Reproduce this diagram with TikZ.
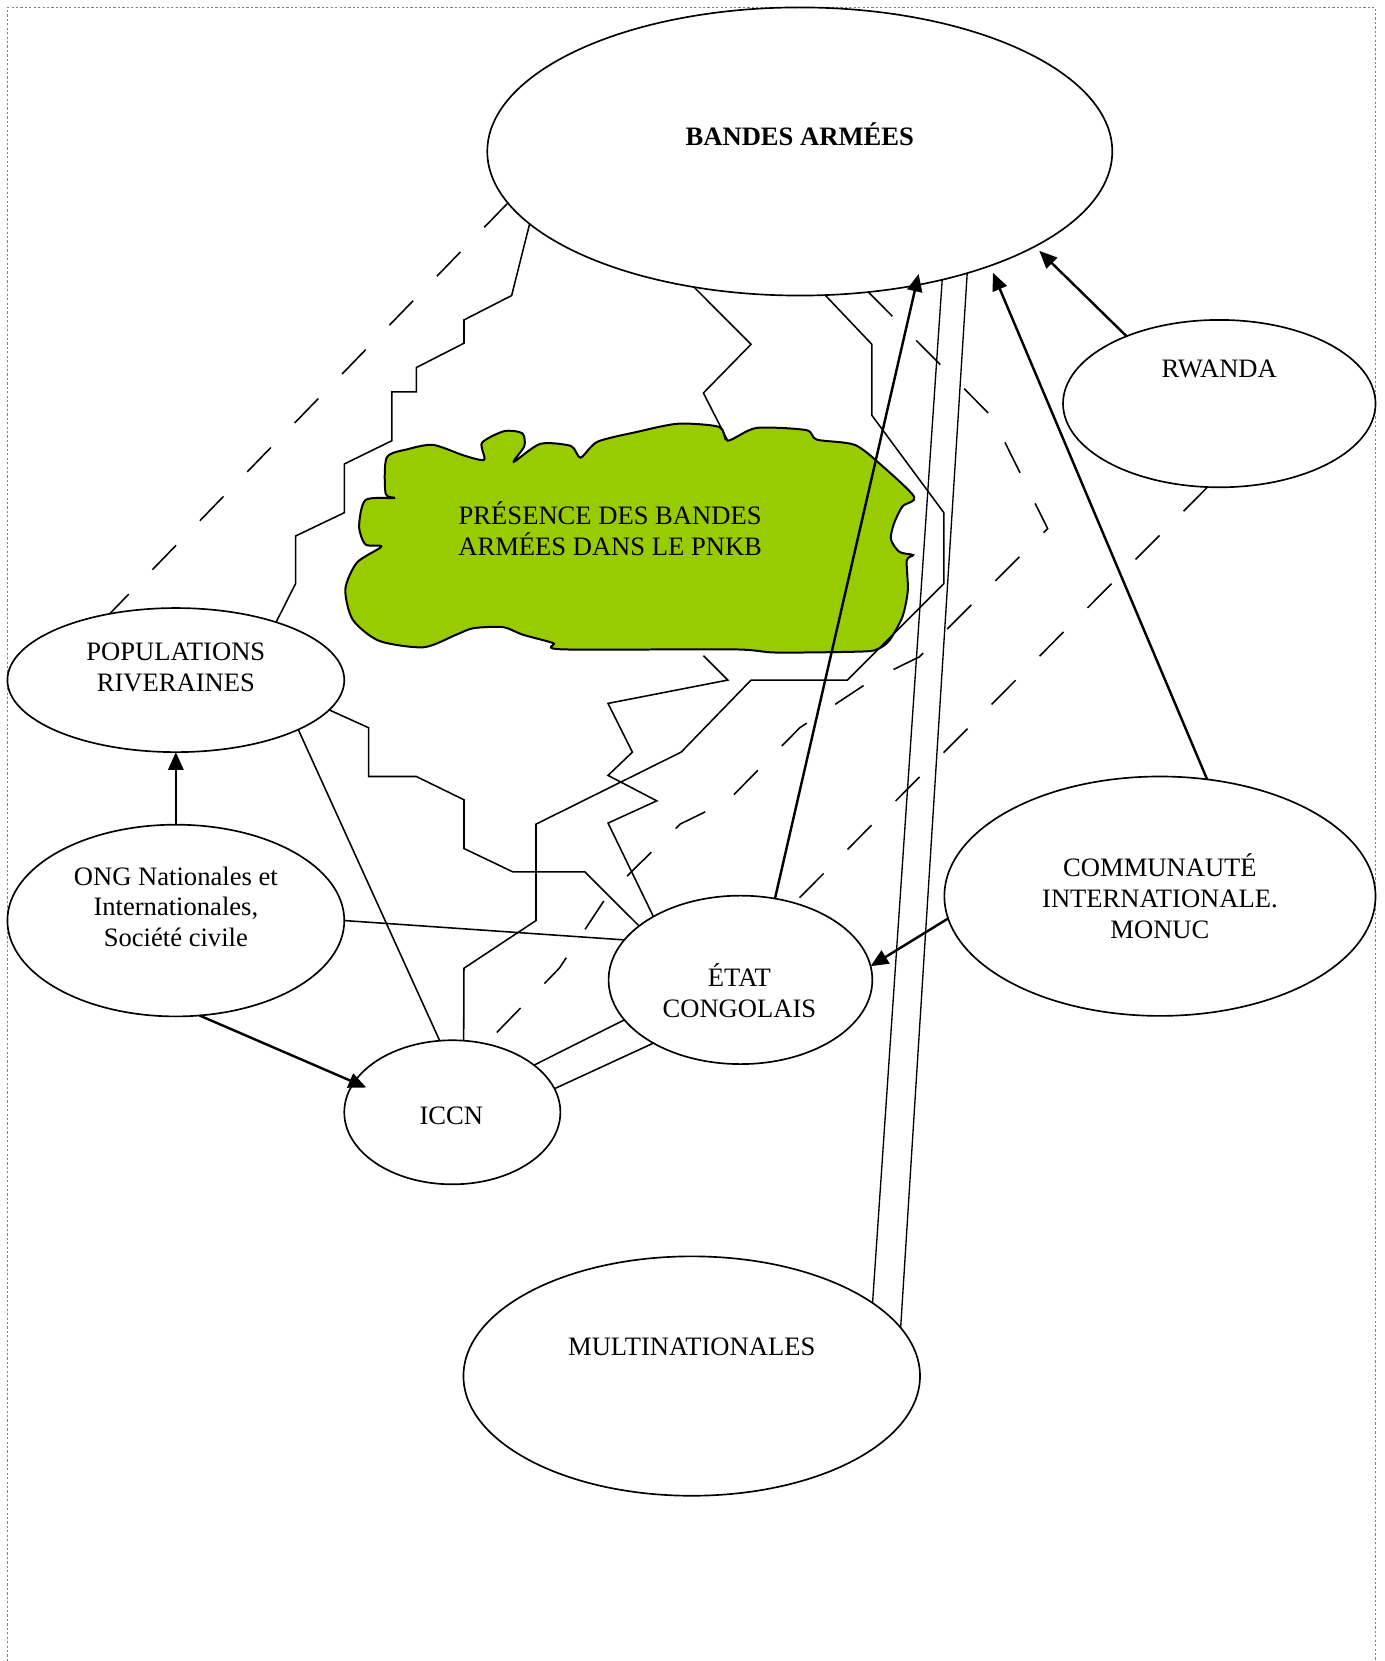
\documentclass[tikz,border=0pt]{standalone}
\usepackage{fontspec}
\setmainfont{Liberation Serif}
\usetikzlibrary{positioning,shapes.geometric,arrows.meta}
\definecolor{parkgreen}{RGB}{153,204,0}
% one unit of the picture = one pixel of the sketch
\newcommand*{\pxl}{0.168mm}

\begin{document}
\begin{tikzpicture}[x=\pxl,y=-\pxl,
  actor/.style 2 args={draw,ellipse,line width=0.75pt,inner sep=0pt,outer sep=0pt,
    minimum width=#1*\pxl,minimum height=#2*\pxl},
  txt/.style={align=center,inner sep=0pt,font=\fontsize{12pt}{13.8pt}\selectfont},
  link/.style={line width=0.7pt},
  twin/.style={line width=0.6pt},
  longdash/.style={line width=0.7pt,dash pattern=on 5.4mm off 5.4mm},
  push/.style={line width=1.1pt,-{Triangle[length=2.8mm,width=2.4mm]}}]
% page and its frame
\useasboundingbox (0,0) rectangle (1307,1568);
\draw[gray,line width=0.4pt,dash pattern=on 1pt off 1pt] (7,1568) |- (1298.5,7) -- (1298.5,1568);
% the actors
\node[actor={590}{272}] (bandes) at (755,143) {};
\node[actor={295}{158}] (rwanda) at (1151,381) {};
\node[actor={318}{136}] (riverains) at (166,642) {};
\node[actor={318}{181}] (ong) at (166,869) {};
\node[actor={249}{159}] (etat) at (699,925) {};
\node[actor={204}{136}] (iccn) at (427,1050) {};
\node[actor={407}{226}] (monuc) at (1095,846) {};
\node[actor={431}{226}] (multi) at (653,1299) {};
% their names
\node[txt] (bandes-txt) at (755,127) {\bfseries BANDES ARMÉES};
\node[txt] (rwanda-txt) at (1151,348) {RWANDA};
\node[txt] (riverains-txt) at (166,630) {POPULATIONS\\RIVERAINES};
\node[txt] (ong-txt) at (166,856) {ONG Nationales et\\Internationales,\\Société civile};
\node[txt] (etat-txt) at (698,935) {ÉTAT\\CONGOLAIS};
\node[txt] (iccn-txt) at (426,1053) {ICCN};
\node[txt] (monuc-txt) at (1095,846) {COMMUNAUTÉ\\INTERNATIONALE.\\MONUC};
\node[txt] (multi-txt) at (653,1271) {MULTINATIONALES};
% zigzag from the bands to the state, hidden under the park
\draw[link] (bandes.232) -- (709,325) -- (664,371) -- (687,416)
  (664,619) -- (687,642) -- (574,664) -- (597,710) -- (574,732)
  -- (620,756) -- (574,777) -- (etat.144);
% the park
\draw[line width=0.9pt,fill=parkgreen] plot[smooth cycle,tension=0.45] coordinates {
  (365,432) (385,424) (409,420) (438,430) (457,434) (455,418) (476,407) (493,409)
  (495,421) (485,436) (510,419) (539,421) (548,432) (564,417) (600,408) (640,400)
  (679,403) (687,416) (714,404) (761,406) (771,415) (807,420) (833,440) (863,469)
  (852,478) (844,494) (841,509) (849,521) (862,524) (856,529) (857,557) (852,582)
  (840,604) (830,612) (815,615) (733,616) (692,613) (531,613) (522,607) (493,599)
  (475,592) (447,593) (431,599) (400,611) (358,605) (333,585) (326,556) (337,531)
  (360,516) (345,514) (339,497) (345,472) (372,470) (364,466)};
\node[txt] (pnkb) at (576,499) {PRÉSENCE DES BANDES\\ARMÉES DANS LE PNKB};
% bands and riverains
\draw[longdash] (bandes.190) -- (riverains.135);
\draw[link] (bandes.195) -- (483,279) -- (438,302) -- (438,324) -- (393,347)
  -- (393,370) -- (370,370) -- (370,416) -- (325,438) -- (325,484) -- (279,506)
  -- (279,551) -- (riverains.30);
% bands and ICCN
\draw[link] (bandes.280) -- (823,325) -- (823,392) -- (891,484) -- (891,551)
  -- (800,642) -- (709,642) -- (643,710) -- (506,778) -- (506,869) -- (438,914)
  -- (iccn.81);
\draw[longdash] (bandes.296) -- (937,394) -- (989,499) -- (868,620) -- (823,642)
  -- (755,687) -- (687,756) -- (642,778) -- (598,821) -- (573,846) -- (528,914)
  -- (iccn.64);
% arrows into the bands
\draw[push,shorten >=-1.85mm] (etat.67) -- (bandes.311);
\draw[push,shorten >=1.2mm] (monuc.68) -- (bandes.329);
\draw[push,shorten >=1mm] (rwanda.144) -- (bandes.338);
% multinationales
\draw[twin] (bandes.318) -- (multi.22);
\draw[twin] (bandes.324) -- (multi.13);
% rwanda, community and the state
\draw[longdash] (rwanda.262) -- (etat.55);
\draw[push] (monuc.186) -- (etat.6);
% riverains, ngo, iccn and the state
\draw[push] (ong.north) -- (riverains.south);
\draw[push,shorten >=-2.1mm] (ong.284) -- (iccn.163);
\draw[link] (riverains.338) -- (iccn.100);
\draw[link] (riverains.349) -- (348,687) -- (348,733) -- (393,733) -- (438,755)
  -- (438,801) -- (484,823) -- (552,823) -- (etat.152);
\draw[link] (ong.east) -- (etat.161);
\draw[link] (iccn.30) -- (etat.199);
\draw[link] (iccn.13) -- (etat.216);
\end{tikzpicture}
\end{document}
